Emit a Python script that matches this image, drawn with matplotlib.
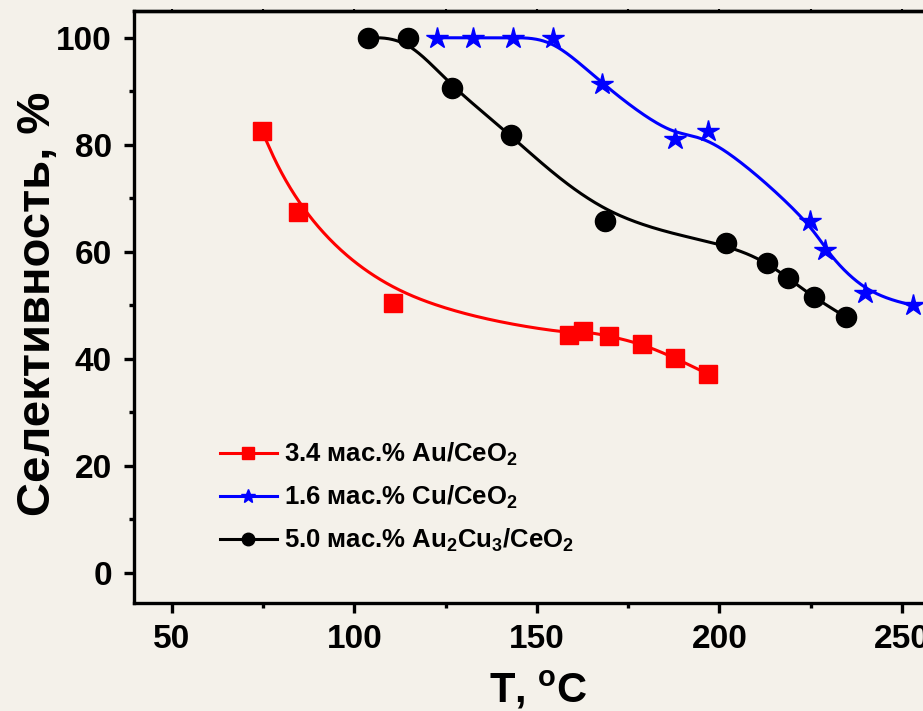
import numpy as np
import matplotlib
matplotlib.use("Agg")
import matplotlib.pyplot as plt
from matplotlib.ticker import MultipleLocator

# --- data ------------------------------------------------------------------
t_au = [74.7, 84.5, 110.5, 158.8, 162.6, 169.7, 178.8, 187.8, 196.8]
s_au = [82.5, 67.5, 50.4, 44.5, 45.2, 44.3, 42.8, 40.2, 37.2]

t_cu = [122.6, 132.5, 143.4, 154.4, 167.8, 187.8, 196.8, 224.8, 228.9, 239.9, 253.0]
s_cu = [100.0, 100.0, 100.0, 100.0, 91.3, 81.0, 82.6, 65.7, 60.3, 52.3, 50.0]

t_aucu = [103.7, 114.7, 126.7, 142.9, 168.6, 201.8, 213.0, 218.8, 225.9, 234.7]
s_aucu = [100.0, 100.0, 90.7, 81.9, 65.7, 61.6, 58.0, 55.1, 51.5, 47.8]

labels = ["3.4 мас.% Au/CeO$_2$",
          "1.6 мас.% Cu/CeO$_2$",
          "5.0 мас.% Au$_2$Cu$_3$/CeO$_2$"]

BG = "#f4f1ea"

plt.rcParams["font.family"] = ["Liberation Sans", "DejaVu Sans"]
plt.rcParams["font.weight"] = "bold"
plt.rcParams["mathtext.fontset"] = "custom"
plt.rcParams["mathtext.rm"] = "Liberation Sans:bold"
plt.rcParams["mathtext.it"] = "Liberation Sans:bold"
plt.rcParams["mathtext.bf"] = "Liberation Sans:bold"
plt.rcParams["mathtext.default"] = "rm"


def bspline(x, y, n=60):
    """Uniform cubic B-spline using the points as control points (Origin style)."""
    P = np.column_stack([x, y])
    P = np.vstack([P[0], P[0], P, P[-1], P[-1]])
    t = np.linspace(0, 1, n)[:, None]
    b0 = (1 - t) ** 3 / 6
    b1 = (3 * t ** 3 - 6 * t ** 2 + 4) / 6
    b2 = (-3 * t ** 3 + 3 * t ** 2 + 3 * t + 1) / 6
    b3 = t ** 3 / 6
    out = [b0 * P[i] + b1 * P[i + 1] + b2 * P[i + 2] + b3 * P[i + 3]
           for i in range(len(P) - 3)]
    out = np.vstack(out)
    return out[:, 0], out[:, 1]


fig = plt.figure(figsize=(9.23, 7.11), dpi=100, facecolor=BG)
ax = fig.add_axes([134 / 923, 108 / 711, (942 - 134) / 923, (603 - 11) / 711])
ax.set_facecolor(BG)

series = [(t_au, s_au, "red", "s", 13),
          (t_cu, s_cu, "blue", "*", 16),
          (t_aucu, s_aucu, "black", "o", 14.5)]
for (tx, sy, c, m, ms), lab in zip(series, labels):
    cx, cy = bspline(tx, sy)
    ax.plot(cx, cy, color=c, lw=2.2, zorder=2)
    ax.plot(tx, sy, ls="none", marker=m, ms=ms, color=c, zorder=3)
    ax.plot([], [], color=c, lw=2.2, marker=m, ms=ms * 0.62, label=lab)

ax.set_xlim(39.6, 261)
ax.set_ylim(-5.6, 105)
ax.xaxis.set_major_locator(MultipleLocator(50))
ax.xaxis.set_minor_locator(MultipleLocator(25))
ax.yaxis.set_major_locator(MultipleLocator(20))
ax.yaxis.set_minor_locator(MultipleLocator(10))

for sp in ax.spines.values():
    sp.set_linewidth(2.4)
ax.tick_params(which="major", direction="out", length=7, width=2.4, labelsize=24)
ax.tick_params(which="minor", direction="out", length=3.6, width=2.4)
ax.tick_params(axis="y", which="major", pad=9)
ax.tick_params(axis="x", which="major", pad=8)

# short ticks on the top frame, no labels
top = ax.secondary_xaxis("top")
top.xaxis.set_major_locator(MultipleLocator(25))
top.tick_params(direction="out", length=1.5, width=1.5, labeltop=False)
top.spines["top"].set_linewidth(2.4)

ax.set_xlabel("T, $^\\mathregular{o}$C", fontsize=30, fontweight="bold")
ax.set_ylabel("Селективность, %", fontsize=34, fontweight="bold")
ax.xaxis.set_label_coords(0.5, -0.112)
ax.yaxis.set_label_coords(-0.092, 0.505)

leg = ax.legend(loc="upper left", bbox_to_anchor=(220 / 923, 1 - 441 / 711),
                bbox_transform=fig.transFigure, frameon=False, fontsize=18.5,
                handlelength=2.2, handletextpad=0.3, labelspacing=0.62,
                borderpad=0, borderaxespad=0)

fig.savefig("out.png", dpi=100, facecolor=BG)
